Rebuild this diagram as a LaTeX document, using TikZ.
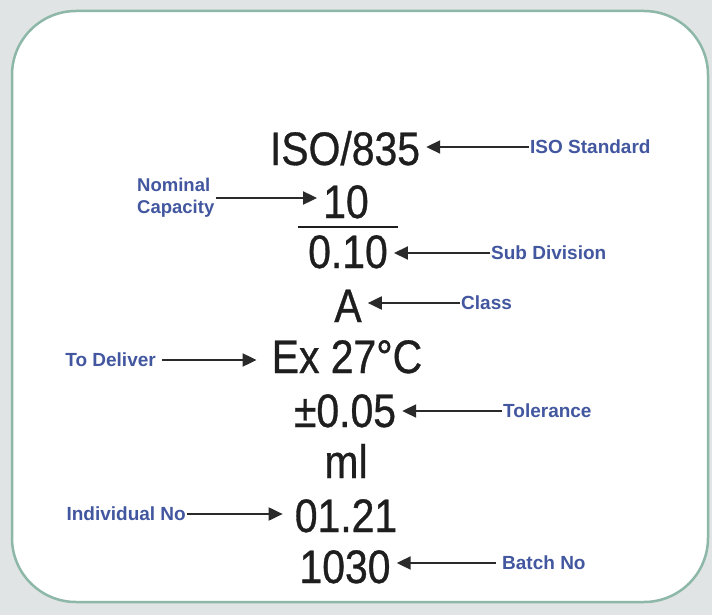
\documentclass[tikz,border=0pt]{standalone}
\usepackage{fontspec}
\usetikzlibrary{arrows.meta}
\newfontfamily\bignumfont[FakeStretch=0.87,FakeBold=0.7]{Liberation Sans}
\newfontfamily\labelfont{Liberation Sans}
\definecolor{bgout}{HTML}{E0E4E4}
\definecolor{boxline}{HTML}{8DB8A8}
\definecolor{labblue}{HTML}{42579F}
\definecolor{numink}{HTML}{1E1E1E}
\definecolor{arrink}{HTML}{2A2A2A}
\begin{document}
\begin{tikzpicture}[x=1pt,y=-1pt,
  bignum/.style={font=\bignumfont\fontsize{47}{50}\selectfont, text=numink, anchor=base, inner xsep=6pt, inner ysep=0pt},
  lab/.style={font=\labelfont\bfseries\fontsize{19}{21}\selectfont, text=labblue, inner sep=1pt},
  arr/.style={draw=arrink, line width=2pt, -{Triangle[length=14pt,width=13pt]}}
]
\useasboundingbox (0,0) rectangle (712,615);
\fill[bgout] (0,0) rectangle (712,615);
\draw[boxline, line width=2.5pt, fill=white, rounded corners=64pt] (12,11) rectangle (708,602);

% main values
\node[bignum] (iso) at (345,165) {ISO/835};
\node[bignum] (cap) at (346,218) {10};
\node[bignum] (sub) at (348,268) {0.10};
\node[bignum] (cls) at (348,322) {A};
\node[bignum] (ex)  at (347,373) {Ex 27°C};
\node[bignum] (tol) at (345,427) {±0.05};
\node[bignum] (ml)  at (346,478) {ml};
\node[bignum] (ind) at (346,532) {01.21};
\node[bignum] (bat) at (345,583) {1030};

% fraction bar
\draw[numink, line width=2pt] (298,227) -- (398,227);

% labels
\node[lab, anchor=west] (isolab) at (529,147) {ISO Standard};
\node[lab, anchor=west, align=left, font=\labelfont\bfseries\fontsize{18.5}{22}\selectfont] (caplab) at (136,198) {Nominal\\Capacity};
\node[lab, anchor=west] (sublab) at (490,253) {Sub Division};
\node[lab, anchor=west] (clslab) at (460,303) {Class};
\node[lab, anchor=east] (exlab) at (157,360) {To Deliver};
\node[lab, anchor=west] (tollab) at (502,411) {Tolerance};
\node[lab, anchor=east] (indlab) at (187,514) {Individual No};
\node[lab, anchor=west] (batlab) at (501,563) {Batch No};

% connectors
\draw[arr] (isolab.west) -- (isolab.west -| iso.east);
\draw[arr] (caplab.east) -- (caplab.east -| cap.west);
\draw[arr] (sublab.west) -- (sublab.west -| sub.east);
\draw[arr] (clslab.west) -- (clslab.west -| cls.east);
\draw[arr, shorten >=9pt] ([xshift=5pt]exlab.east) -- (exlab.east -| ex.west);
\draw[arr] (tollab.west) -- (tollab.west -| tol.east);
\draw[arr, shorten >=6pt] (indlab.east) -- (indlab.east -| ind.west);
\draw[arr] ([xshift=-5pt]batlab.west) -- (batlab.west -| bat.east);
\end{tikzpicture}
\end{document}
